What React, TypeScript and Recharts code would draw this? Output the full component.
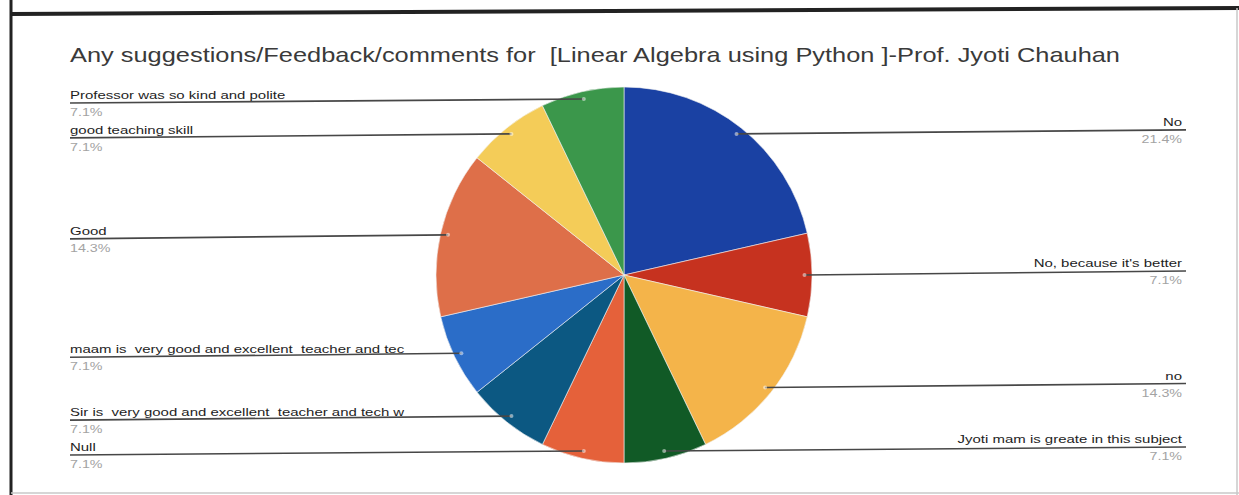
import { Cell, Pie, PieChart } from 'recharts';

const TITLE = 'Any suggestions/Feedback/comments for  [Linear Algebra using Python ]-Prof. Jyoti Chauhan';

// answers, clockwise from 12 o'clock
const answers = [
    'No',
    "No, because it's better",
    'no',
    'Jyoti mam is greate in this subject',
    'Null',
    'Sir is  very good and excellent  teacher and tech w',
    'maam is  very good and excellent  teacher and tec',
    'Good',
    'good teaching skill',
    'Professor was so kind and polite',
];
const counts = [3, 1, 2, 1, 1, 1, 1, 2, 1, 1];
const colors = [
    '#1a41a3',
    '#c6321f',
    '#f4b44a',
    '#115a26',
    '#e5613a',
    '#0c5882',
    '#2b6dc8',
    '#de6f49',
    '#f4cc58',
    '#3b974b',
];

const FONT = '"Liberation Sans", Arial, sans-serif';
const LEFT_X = 70;
const RIGHT_X = 1186;
const STRETCH = 1.36;
const RAD = Math.PI / 180;

function SliceLabel(props: any) {
    const { cx, cy, midAngle, outerRadius, percent, name } = props;
    const r = outerRadius * 0.96;
    const px = cx + r * Math.cos(-midAngle * RAD);
    const py = cy + r * Math.sin(-midAngle * RAD);
    const right = px > cx;
    // scanned labels sit a little off the slice point: up on the right, down on the left
    const ly = py + (right ? -4 : 4);
    const tx = right ? RIGHT_X - 4 : LEFT_X;
    const pct = `${(percent * 100).toFixed(1)}%`;
    return (
        <g>
            <line x1={px} y1={py} x2={right ? RIGHT_X : LEFT_X} y2={ly} stroke="#474747" strokeWidth={1.6} />
            <circle cx={px} cy={py} r={2} fill="#ffffff" fillOpacity={0.5} />
            <text
                transform={`translate(${tx},${ly - 4}) scale(${STRETCH},1)`}
                textAnchor={right ? 'end' : 'start'}
                fontSize={11}
                fontFamily={FONT}
                fill="#1e1e1e"
                style={{ whiteSpace: 'pre' }}
            >
                {name}
            </text>
            <text
                transform={`translate(${tx},${ly + 13}) scale(${STRETCH},1)`}
                textAnchor={right ? 'end' : 'start'}
                fontSize={10.5}
                fontFamily={FONT}
                fill="#a3a3a3"
            >
                {pct}
            </text>
        </g>
    );
}

export default function App() {
    const rows = answers.map((name, i) => ({ name, value: counts[i] }));

    return (
        <div style={{ position: 'fixed', left: 0, top: 0, width: 1239, height: 495, background: '#fff' }}>
            <PieChart width={1239} height={495} margin={{ top: 0, right: 0, bottom: 0, left: 0 }}>
                {/* scanned page frame */}
                <line x1={11} y1={0} x2={11} y2={495} stroke="#222" strokeWidth={3} />
                <line x1={11} y1={14} x2={1239} y2={8} stroke="#222" strokeWidth={4} />
                <line x1={1237} y1={8} x2={1237} y2={495} stroke="#c8c8c8" strokeWidth={1.5} />
                <line x1={11} y1={493} x2={1239} y2={493} stroke="#c8c8c8" strokeWidth={1.5} />
                <text
                    x={70}
                    y={62}
                    fontSize={21}
                    fontFamily={FONT}
                    fill="#3a3a3a"
                    textLength={1050}
                    lengthAdjust="spacingAndGlyphs"
                    style={{ whiteSpace: 'pre' }}
                >
                    {TITLE}
                </text>
                <Pie
                    data={rows}
                    dataKey="value"
                    nameKey="name"
                    cx={624}
                    cy={275}
                    outerRadius={188}
                    startAngle={90}
                    endAngle={-270}
                    stroke="#f2f2f2"
                    strokeWidth={0.6}
                    label={SliceLabel}
                    labelLine={false}
                    isAnimationActive={false}
                >
                    {rows.map((r, i) => (
                        <Cell key={r.name} fill={colors[i]} />
                    ))}
                </Pie>
            </PieChart>
        </div>
    );
}
